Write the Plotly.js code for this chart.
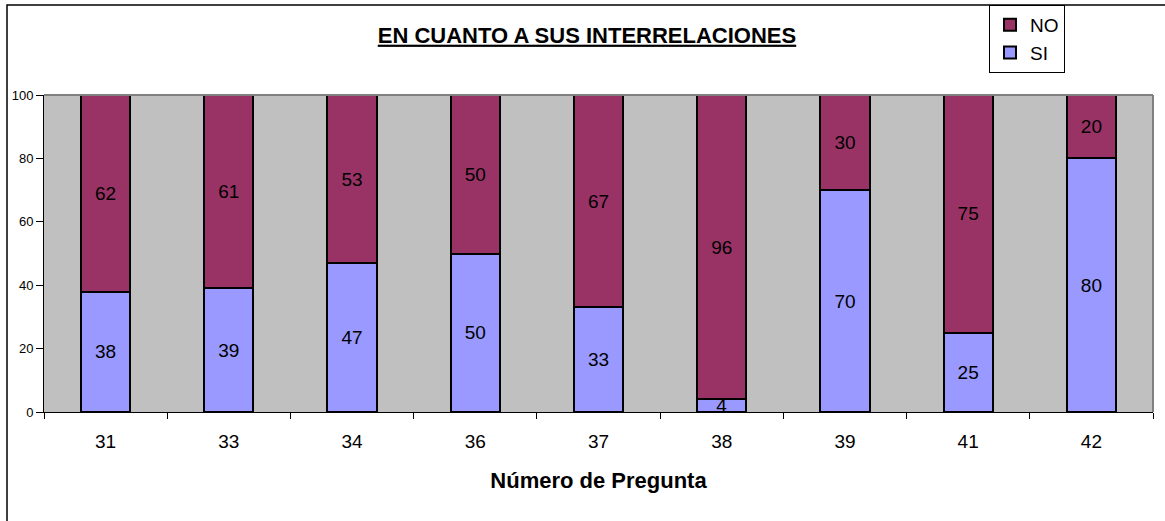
<!DOCTYPE html>
<html>
<head>
<meta charset="utf-8">
<script src="https://cdn.plot.ly/plotly-3.0.1.min.js"></script>
<style>html,body{margin:0;padding:0;background:#fff;}#chart{width:1165px;height:521px;}</style>
</head>
<body>
<div id="chart"></div>
<script>
const categories = ['31','33','34','36','37','38','39','41','42'];
const siValues = [38, 39, 47, 50, 33, 4, 70, 25, 80];
const noValues = [62, 61, 53, 50, 67, 96, 30, 75, 20];
const yTicks = [0, 20, 40, 60, 80, 100];

const FONT = 'Liberation Sans, Arial, sans-serif';
const L = 44, R = 12, T = 95, B = 109, W = 1165, H = 521;
const pw = W - L - R, ph = H - T - B;
const px = v => (v - L) / pw;
const py = v => (H - B - v) / ph;

const common = {
  type: 'bar',
  x: categories,
  width: 0.4,
  textposition: 'inside',
  insidetextanchor: 'middle',
  textangle: 0,
  textfont: {family: FONT, size: 19, color: '#000'},
  hoverinfo: 'skip'
};
const traces = [
  Object.assign({}, common, {
    name: 'SI', y: siValues, text: siValues.map(String),
    marker: {color: '#9999FF', line: {color: '#000', width: 2}}
  }),
  Object.assign({}, common, {
    name: 'NO', y: noValues, text: noValues.map(String),
    marker: {color: '#993366', line: {color: '#000', width: 2}}
  })
];

const layout = {
  width: W, height: H,
  margin: {l: L, r: R, t: T, b: B, pad: 0, autoexpand: false},
  paper_bgcolor: '#fff',
  plot_bgcolor: '#C0C0C0',
  barmode: 'stack',
  showlegend: true,
  uniformtext: {mode: 'show', minsize: 19},
  font: {family: FONT, color: '#000'},
  title: {
    text: '<b><u>EN CUANTO A SUS INTERRELACIONES</u></b>',
    font: {family: FONT, size: 22, color: '#000'},
    x: 587 / W, xanchor: 'center',
    y: 1 - 35 / H, yanchor: 'middle'
  },
  legend: {
    x: px(989), y: py(5), xanchor: 'left', yanchor: 'top',
    traceorder: 'reversed',
    bgcolor: '#fff', bordercolor: '#000', borderwidth: 1,
    font: {family: FONT, size: 19, color: '#000'},
    itemwidth: 30
  },
  xaxis: {
    type: 'category',
    showgrid: false, zeroline: false,
    showline: true, linecolor: '#000', linewidth: 1,
    ticks: 'outside', tickson: 'boundaries', ticklen: 6, tickcolor: '#000',
    ticklabelstandoff: 12,
    tickfont: {family: FONT, size: 19, color: '#000'},
    title: {text: '<b>Número de Pregunta</b>', font: {family: FONT, size: 22, color: '#000'}, standoff: 21}
  },
  yaxis: {
    range: [0, 100],
    tickvals: yTicks,
    showgrid: false, zeroline: false,
    showline: true, linecolor: '#000', linewidth: 1,
    ticks: 'outside', ticklen: 7, tickcolor: '#000',
    tickfont: {family: FONT, size: 13, color: '#000'}
  },
  shapes: [
    {type: 'line', xref: 'paper', yref: 'paper', x0: 0, x1: 1, y0: 1, y1: 1, line: {color: '#808080', width: 2}},
    {type: 'line', xref: 'paper', yref: 'paper', x0: 1, x1: 1, y0: 0, y1: 1, line: {color: '#808080', width: 2}},
    {type: 'rect', xref: 'paper', yref: 'paper', x0: px(7), x1: px(1175), y0: py(530), y1: py(5), line: {color: '#000', width: 1.5}, fillcolor: 'rgba(0,0,0,0)'}
  ]
};

Plotly.newPlot('chart', traces, layout, {displayModeBar: false, staticPlot: true});
</script>
</body>
</html>
